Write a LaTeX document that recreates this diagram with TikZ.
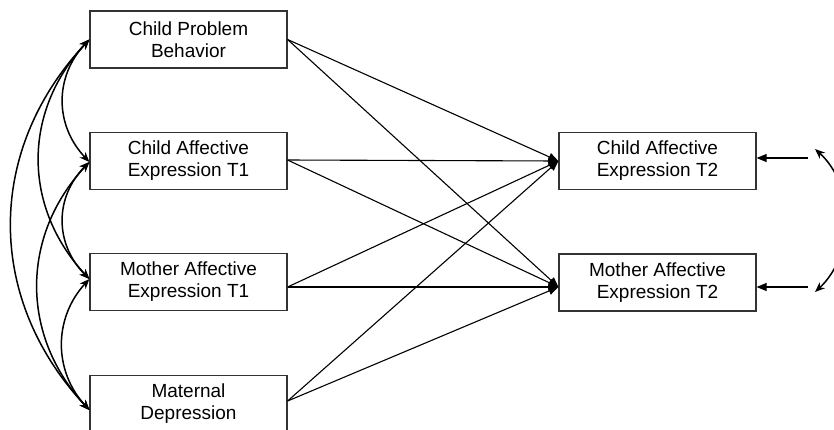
\documentclass[tikz,border=0pt]{standalone}
\usepackage{fontspec}
\setmainfont{Liberation Sans}
\usetikzlibrary{arrows.meta}
\begin{document}
\begin{tikzpicture}[x=1pt,y=-1pt,
  box/.style={draw=black!80, line width=1.2pt, minimum width=197pt, minimum height=57pt,
    inner sep=0pt, align=center, font=\fontsize{19}{22}\selectfont},
  pathline/.style={line width=1.1pt, -{Triangle[length=10pt,width=8pt]}},
  cov/.style={line width=1.5pt, {Stealth[length=10pt,width=8pt]}-{Stealth[length=10pt,width=8pt]}}]
\useasboundingbox (0,0) rectangle (834,429);
% left boxes
\node[box] (cpb) at (188.5,39.5) {Child Problem\\Behavior};
\node[box] (ca1) at (188.5,161) {Child Affective\\Expression T1};
\node[box] (ma1) at (188.5,282) {Mother Affective\\Expression T1};
\node[box] (md)  at (188.5,404) {Maternal\\Depression};
% right boxes
\node[box] (ca2) at (657.5,161) {Child Affective\\Expression T2};
\node[box] (ma2) at (657.5,282.5) {Mother Affective\\Expression T2};
% anchor points
\coordinate (s1) at (cpb.east);
\coordinate (s2) at ([yshift=1pt]ca1.east);
\coordinate (s3) at ([yshift=-5pt]ma1.east);
\coordinate (s4) at ([yshift=3pt]md.east);
\coordinate (t1) at (ca2.west);
\coordinate (t2) at ([yshift=-4.5pt]ma2.west);
\coordinate (l1) at (cpb.west);
\coordinate (l2) at ([yshift=-1pt]ca1.west);
\coordinate (l3) at ([yshift=3pt]ma1.west);
\coordinate (l4) at ([yshift=-6pt]md.west);
% regression paths
\foreach \s in {s1,s2,s3,s4}{
  \draw[pathline] (\s) -- (t1);
  \draw[pathline] (\s) -- (t2);
}
% covariances on the left
\draw[cov] (l1) .. controls +(-35,37) and +(-35,-37) .. (l2);
\draw[cov] (l1) .. controls +(-67,72) and +(-67,-72) .. (l3);
\draw[cov] (l1) .. controls +(-104,111) and +(-104,-111) .. (l4);
\draw[cov] (l2) .. controls +(-35,35) and +(-35,-35) .. (l3);
\draw[cov] (l2) .. controls +(-69,74) and +(-69,-74) .. (l4);
\draw[cov] (l3) .. controls +(-36,39) and +(-36,-39) .. (l4);
% residuals on the right
\coordinate (r1) at (808,158);
\coordinate (r2) at (808,287);
\draw[pathline] (r1) -- ([yshift=3pt]ca2.east);
\draw[pathline] (r2) -- ([yshift=-4.5pt]ma2.east);
\coordinate (e1) at (815,149);
\coordinate (e2) at (815,292);
\draw[cov] (e1) .. controls +(40,36) and +(40,-37) .. (e2);
\end{tikzpicture}
\end{document}
